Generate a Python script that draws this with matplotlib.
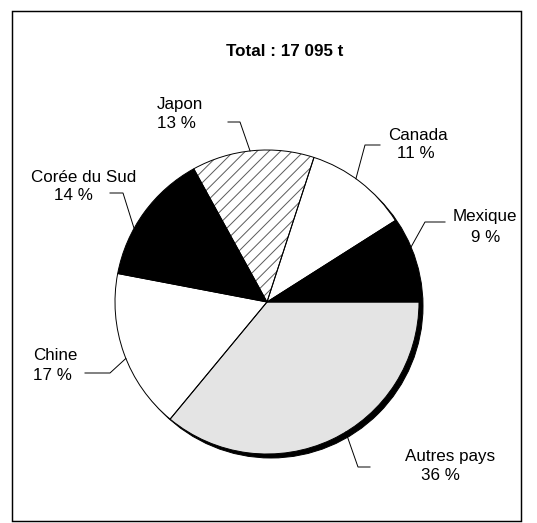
import matplotlib
matplotlib.use('Agg')
import matplotlib.pyplot as plt
from matplotlib.patches import Circle, Rectangle
import numpy as np

countries = ['Autres pays', 'Chine', 'Corée du Sud', 'Japon', 'Canada', 'Mexique']
shares = [36, 17, 14, 13, 11, 9]
total_label = 'Total : 17 095 t'

W, H = 537, 523
DPI = 70

plt.rcParams['font.family'] = ['Liberation Sans', 'DejaVu Sans']
plt.rcParams['hatch.linewidth'] = 1.0


def py(y):
    # picture y (top down) -> data y
    return H - y


fig = plt.figure(figsize=(W / DPI, H / DPI), dpi=DPI)
ax = fig.add_axes([0, 0, 1, 1])

cx, cy, r = 267, py(302), 152
fills = ['#e4e4e4', 'white', 'black', 'white', 'white', 'black']

# shadow
ax.add_patch(Circle((cx + 4, cy - 4), r, color='black', zorder=0))

wedges, _ = ax.pie(shares, colors=fills, startangle=0, counterclock=False,
                   radius=r, center=(cx, cy), wedgeprops=dict(linewidth=0))
wedges[3].set_hatch('//')
wedges[3].set_edgecolor('#5a5a5a')
wedges[3].set_linewidth(0)

# outlines on top
ax.pie(shares, colors=['none'] * len(shares), startangle=0, counterclock=False,
       radius=r, center=(cx, cy),
       wedgeprops=dict(linewidth=1.0, edgecolor='black', facecolor='none'))

# label layout: line1 center, line2 center, bend, end of horizontal, angle nudge
layout = {
    'Japon':        ((180, 105), (176, 123), (240, 122), (228, 122), 1),
    'Canada':       ((418, 135), (416, 153), (365, 145), (380, 145), 2),
    'Mexique':      ((485, 217), (486, 238), (425, 222), (445, 222), 4),
    'Corée du Sud': ((84, 177), (73, 196), (123, 193), (110, 193), 7),
    'Chine':        ((55, 356), (52, 375), (110, 373), (85, 373), 2),
    'Autres pays':  ((450, 457), (440, 476), (358, 467), (370, 467), 6),
}

fs = 17.5
for w, name, pct in zip(wedges, countries, shares):
    l1, l2, bend, end, nudge = layout[name]
    ang = np.deg2rad((w.theta1 + w.theta2) / 2 + nudge)
    ex, ey = cx + r * np.cos(ang), cy + r * np.sin(ang)
    ax.plot([ex, bend[0], end[0]], [ey, py(bend[1]), py(end[1])],
            color='black', lw=1.0, zorder=5)
    ax.text(l1[0], py(l1[1]), name, ha='center', va='center', fontsize=fs)
    ax.text(l2[0], py(l2[1]), f'{pct} %', ha='center', va='center', fontsize=fs)

ax.text(285, py(52), total_label, ha='center', va='center',
        fontsize=fs, fontweight='bold')

# frame
ax.add_patch(Rectangle((12, py(521)), 509, 510, fill=False, lw=1.5,
                       edgecolor='black', zorder=6))

ax.set_xlim(0, W)
ax.set_ylim(0, H)
ax.axis('off')

fig.savefig('out.png', dpi=DPI)
